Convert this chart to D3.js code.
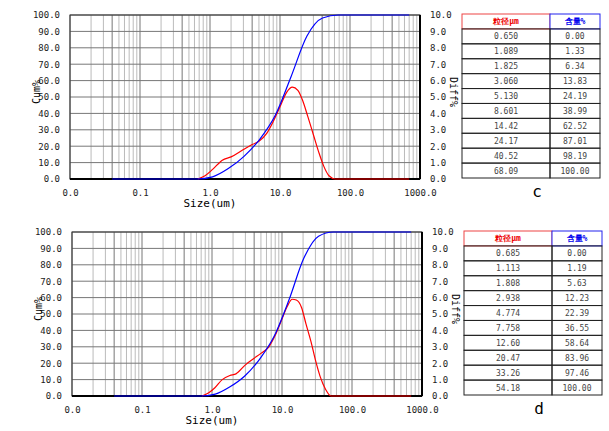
<!DOCTYPE html>
<html><head><meta charset="utf-8">
<script src="https://cdn.jsdelivr.net/npm/d3@7"></script>
<style>body{margin:0;background:#fff}text{font-family:"DejaVu Sans Mono",monospace}</style>
</head><body>
<svg id="chart" width="609" height="431"></svg>
<script>
// table values (size um, cumulative %)
var sizesC = ["0.650","1.089","1.825","3.060","5.130","8.601","14.42","24.17","40.52","68.09"];
var cumC = ["0.00","1.33","6.34","13.83","24.19","38.99","62.52","87.01","98.19","100.00"];
var sizesD = ["0.685","1.113","1.808","2.938","4.774","7.758","12.60","20.47","33.26","54.18"];
var cumD = ["0.00","1.19","5.63","12.23","22.39","36.55","58.64","83.96","97.46","100.00"];

// curves: [size, value]
var cumCurveC = [[0.04,0],[0.65,0],[1.089,1.33],[1.825,6.34],[3.06,13.83],[5.13,24.19],[8.601,38.99],[14.42,62.52],[24.17,87.01],[40.52,98.19],[68.09,100],[700,100]];
var diffCurveC = [[0.67,0],[0.85,0.2],[1.1,0.6],[1.5,1.15],[2,1.35],[3,1.8],[4,2.1],[5,2.3],[6.5,2.8],[8,3.5],[10,4.4],[12.5,5.3],[15,5.6],[18,5.4],[21,4.8],[25,3.8],[30,2.7],[36,1.6],[42,0.8],[50,0.2],[62,0],[700,0]];
var cumCurveD = [[0.04,0],[0.685,0],[1.113,1.19],[1.808,5.63],[2.938,12.23],[4.774,22.39],[7.758,36.55],[12.6,58.64],[20.47,83.96],[33.26,97.46],[54.18,100],[700,100]];
var diffCurveD = [[0.72,0],[0.9,0.2],[1.1,0.5],[1.4,1.0],[1.8,1.25],[2.2,1.35],[3,1.9],[4,2.3],[5,2.6],[6.5,3.0],[8,3.7],[10,4.7],[12,5.5],[14,5.9],[16,5.85],[19,5.4],[22,4.4],[26,3.3],[30,2.2],[35,1.2],[42,0.4],[50,0],[700,0]];

var cumTicks = d3.range(0, 101, 10);
var diffTicks = d3.range(0, 11, 1);
var sizeTicks = [0.01, 0.1, 1, 10, 100, 1000];

var svg = d3.select('#chart');

function drawPanel(x0, y0, cumCurve, diffCurve, sizes, cums, letter) {
  var w = 350, h = 164;
  var g = svg.append('g').attr('transform', 'translate(' + x0 + ',' + y0 + ')');
  var x = d3.scaleLog().domain([0.01, 1000]).range([0, w]);
  var yL = d3.scaleLinear().domain([0, 100]).range([h, 0]);
  var yR = d3.scaleLinear().domain([0, 10]).range([h, 0]);

  // vertical grid
  var minor = [];
  [0.01, 0.1, 1, 10, 100].forEach(function (d) {
    for (var k = 1; k < 10; k++) minor.push(d * k);
  });
  g.selectAll('.vg').data(minor).enter().append('line')
    .attr('x1', function (d) { return x(d); }).attr('x2', function (d) { return x(d); })
    .attr('y1', 0).attr('y2', h)
    .attr('stroke', function (d) { var m = Math.round(d / Math.pow(10, Math.floor(Math.log10(d) + 1e-9))); return (m == 1 || m == 4) ? '#777' : '#bbb'; })
    .attr('stroke-width', 1);
  g.selectAll('.hg').data(cumTicks).enter().append('line')
    .attr('x1', 0).attr('x2', w)
    .attr('y1', function (d) { return yL(d); }).attr('y2', function (d) { return yL(d); })
    .attr('stroke', '#777');
  g.append('rect').attr('width', w).attr('height', h).attr('fill', 'none').attr('stroke', '#333');
  g.append('line').attr('x1', w).attr('x2', w).attr('y1', 0).attr('y2', h).attr('stroke', '#000').attr('stroke-width', 2);
  g.append('line').attr('x1', 0).attr('x2', w).attr('y1', h).attr('y2', h).attr('stroke', '#000').attr('stroke-width', 2);

  var ax = function (sel) { sel.selectAll('.domain').remove(); sel.selectAll('.tick line').remove(); sel.selectAll('text').attr('font-size', 9).attr('fill', '#222'); };
  g.append('g').call(d3.axisLeft(yL).tickValues(cumTicks).tickFormat(d3.format('.1f')).tickPadding(4)).call(ax);
  g.append('g').attr('transform', 'translate(' + w + ',0)')
    .call(d3.axisRight(yR).tickValues(diffTicks).tickFormat(d3.format('.1f')).tickPadding(4)).call(ax);
  g.append('g').attr('transform', 'translate(0,' + h + ')')
    .call(d3.axisBottom(x).tickValues(sizeTicks).tickFormat(function (d) { return d == 0.01 ? '0.0' : d3.format('.1f')(d); }).tickPadding(5)).call(ax);

  g.append('text').attr('x', w / 2 - 35).attr('y', h + 28).attr('text-anchor', 'middle').attr('font-size', 11).text('Size(um)');
  g.append('text').attr('transform', 'translate(-30,' + (h / 2 - 5) + ') rotate(-90)').attr('text-anchor', 'middle').attr('font-size', 10).text('Cum%');
  g.append('text').attr('transform', 'translate(' + (w + 30) + ',' + (h / 2 - 5) + ') rotate(90)').attr('text-anchor', 'middle').attr('font-size', 10).text('Diff%');

  var lineCum = d3.line().x(function (d) { return x(d[0]); }).y(function (d) { return yL(d[1]); }).curve(d3.curveMonotoneX);
  var lineDiff = d3.line().x(function (d) { return x(d[0]); }).y(function (d) { return yR(d[1]); }).curve(d3.curveMonotoneX);
  g.append('path').datum(diffCurve).attr('d', lineDiff).attr('fill', 'none').attr('stroke', '#f00').attr('stroke-width', 1.2);
  g.append('path').datum(cumCurve).attr('d', lineCum).attr('fill', 'none').attr('stroke', '#00f').attr('stroke-width', 1.2);

  // table
  var tx = x0 + 392, c1 = 88, c2 = 50, rh = h / 11;
  var t = svg.append('g').attr('transform', 'translate(' + tx + ',' + (y0 - 1) + ')');
  t.append('rect').attr('x', 0).attr('y', 0).attr('width', c1).attr('height', rh).attr('fill', '#fff').attr('stroke', '#e44');
  t.append('rect').attr('x', c1).attr('y', 0).attr('width', c2).attr('height', rh).attr('fill', '#fff').attr('stroke', '#22e');
  t.append('text').attr('x', c1 / 2).attr('y', rh / 2 + 3).attr('text-anchor', 'middle').attr('font-size', 8).attr('fill', '#e00')
    .attr('font-family', 'Noto Sans CJK SC').attr('font-weight', 'bold').text('粒径μm');
  t.append('text').attr('x', c1 + c2 / 2).attr('y', rh / 2 + 3).attr('text-anchor', 'middle').attr('font-size', 8).attr('fill', '#00e')
    .attr('font-family', 'Noto Sans CJK SC').attr('font-weight', 'bold').text('含量%');
  sizes.forEach(function (s, i) {
    var yy = rh * (i + 1);
    t.append('rect').attr('x', 0).attr('y', yy).attr('width', c1).attr('height', rh).attr('fill', 'none').attr('stroke', '#222');
    t.append('rect').attr('x', c1).attr('y', yy).attr('width', c2).attr('height', rh).attr('fill', 'none').attr('stroke', '#222');
    t.append('text').attr('x', c1 / 2).attr('y', yy + rh / 2 + 3).attr('text-anchor', 'middle').attr('font-size', 8).attr('fill', '#444')
      .attr('font-family', 'Liberation Serif').text(s);
    t.append('text').attr('x', c1 + c2 / 2).attr('y', yy + rh / 2 + 3).attr('text-anchor', 'middle').attr('font-size', 8).attr('fill', '#444')
      .attr('font-family', 'Liberation Serif').text(cums[i]);
  });
  svg.append('text').attr('x', tx + 75).attr('y', y0 + h + 18).attr('text-anchor', 'middle').attr('font-size', 16)
    .attr('font-family', 'Liberation Sans').text(letter);
}

drawPanel(70, 15, cumCurveC, diffCurveC, sizesC, cumC, 'c');
drawPanel(72, 232, cumCurveD, diffCurveD, sizesD, cumD, 'd');
</script>
</body></html>
